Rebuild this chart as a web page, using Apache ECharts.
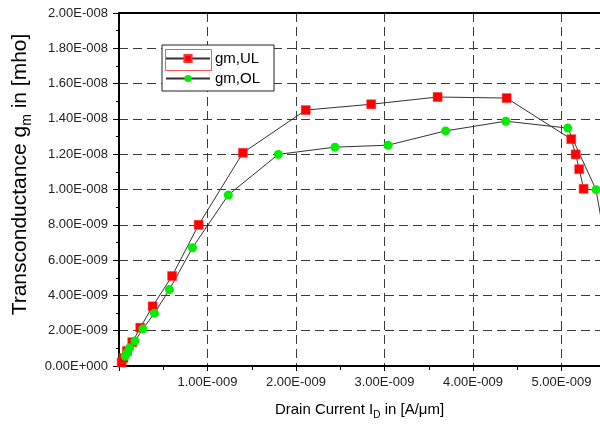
<!DOCTYPE html>
<html>
<head>
<meta charset="utf-8">
<script src="https://cdn.jsdelivr.net/npm/echarts@6/dist/echarts.min.js"></script>
<style>html,body{margin:0;padding:0;background:#fff;}#c{width:600px;height:425px;}</style>
</head>
<body>
<div id="c"></div>
<script>
// values in units of 1e-9 (A/um for x, mho for y)
const ulX = [0.03, 0.05, 0.09, 0.15, 0.24, 0.38, 0.60, 0.90, 1.40, 2.11, 2.85, 3.60, 4.38, 5.11, 5.16, 5.20, 5.25, 5.48];
const ulY = [0.20, 0.45, 0.85, 1.35, 2.17, 3.38, 5.10, 8.00, 12.08, 14.50, 14.83, 15.24, 15.18, 12.85, 11.99, 11.15, 10.04, 9.90];
const olX = [0.07, 0.09, 0.12, 0.18, 0.27, 0.40, 0.57, 0.83, 1.235, 1.80, 2.44, 3.04, 3.69, 4.37, 5.07, 5.39, 5.48];
const olY = [0.55, 0.75, 1.03, 1.42, 2.10, 2.99, 4.33, 6.70, 9.69, 11.99, 12.40, 12.51, 13.32, 13.87, 13.48, 9.99, 7.40];
const seriesNames = ['gm,UL', 'gm,OL'];
const scale = 1e-9;
const xMin = 0, xMax = 5.435, xStep = 1;
const yMin = 0, yMax = 20, yStep = 2;

function fmt(v) {
  const s = (v * scale).toExponential(2);
  let parts = s.split('e');
  const sign = parts[1][0] === '-' ? '-' : '+';
  const e = parts[1].replace(/[+-]/, '');
  return parts[0] + 'E' + sign + e.padStart(3, '0');
}
const zip = (a, b) => a.map((v, i) => [v, b[i]]);

const chart = echarts.init(document.getElementById('c'), null, {renderer: 'canvas'});
const font = 'Liberation Sans, Arial, sans-serif';
const gridStyle = {show: true, lineStyle: {color: '#3a3a3a', width: 1, type: [9, 5]}};
chart.setOption({
  animation: false,
  backgroundColor: '#fff',
  textStyle: {fontFamily: font},
  grid: {left: 119, right: 0, top: 13, bottom: 55},
  legend: {
    left: 162, top: 45, orient: 'vertical',
    backgroundColor: '#fff', borderColor: '#222', borderWidth: 1,
    padding: [6, 14, 5, 3], itemWidth: 44, itemHeight: 9, itemGap: 5,
    textStyle: {fontSize: 15, color: '#000', fontFamily: font},
    data: seriesNames
  },
  xAxis: [{
    type: 'value', min: xMin, max: xMax, interval: xStep,
    name: 'Drain Current {t|I}{sub|D}{t| in [A/\u03bcm]}',
    nameLocation: 'middle', nameGap: 34,
    nameTextStyle: {fontSize: 15, color: '#000', rich: {t: {fontSize: 15, color: '#000'}, sub: {fontSize: 10, color: '#000', padding: [10, 0, 0, 0]}}},
    axisLine: {onZero: false, lineStyle: {color: '#000', width: 2}},
    axisTick: {show: true, inside: false, length: 5, lineStyle: {color: '#000', width: 1}},
    minorTick: {show: true, splitNumber: 2, length: 4, lineStyle: {color: '#000'}},
    axisLabel: {formatter: fmt, fontSize: 13, color: '#222', margin: 10, showMinLabel: false, showMaxLabel: false},
    splitLine: Object.assign({showMinLine: false, showMaxLine: false}, gridStyle)
  }, {
    type: 'value', position: 'top', min: xMin, max: xMax,
    axisLine: {show: true, onZero: false, lineStyle: {color: '#000', width: 2}},
    axisTick: {show: false}, axisLabel: {show: false}, splitLine: {show: false}
  }],
  yAxis: {
    type: 'value', min: yMin, max: yMax, interval: yStep,
    name: 'Transconductance g{sub|m}{t| in [mho]}',
    nameLocation: 'middle', nameGap: 84, nameRotate: 90,
    nameTextStyle: {fontSize: 21, color: '#000', padding: [0, 0, 0, 30],
      rich: {t: {fontSize: 21, color: '#000'}, sub: {fontSize: 14, color: '#000', padding: [13, 0, 0, 0]}}},
    axisLine: {onZero: false, lineStyle: {color: '#000', width: 2}},
    axisTick: {show: true, inside: false, length: 6, lineStyle: {color: '#000', width: 1}},
    minorTick: {show: true, splitNumber: 2, length: 3, lineStyle: {color: '#000'}},
    axisLabel: {formatter: fmt, fontSize: 13, color: '#222', margin: 11},
    splitLine: Object.assign({showMinLine: false, showMaxLine: false}, gridStyle)
  },
  graphic: [{
    type: 'rect', left: 163, top: 47, shape: {width: 46, height: 21},
    style: {fill: 'none', stroke: '#ff5555', lineWidth: 1}, z: 100
  }],
  series: [{
    name: seriesNames[0], type: 'line', data: zip(ulX, ulY),
    symbol: 'rect', symbolSize: 9, clip: true,
    lineStyle: {color: '#333', width: 1},
    itemStyle: {color: '#ff0000', borderColor: '#ff3030', borderWidth: 0.5}
  }, {
    name: seriesNames[1], type: 'line', data: zip(olX, olY),
    symbol: 'circle', symbolSize: 9, clip: true,
    lineStyle: {color: '#333', width: 1},
    itemStyle: {color: '#00ee00'}
  }]
});
</script>
</body>
</html>
